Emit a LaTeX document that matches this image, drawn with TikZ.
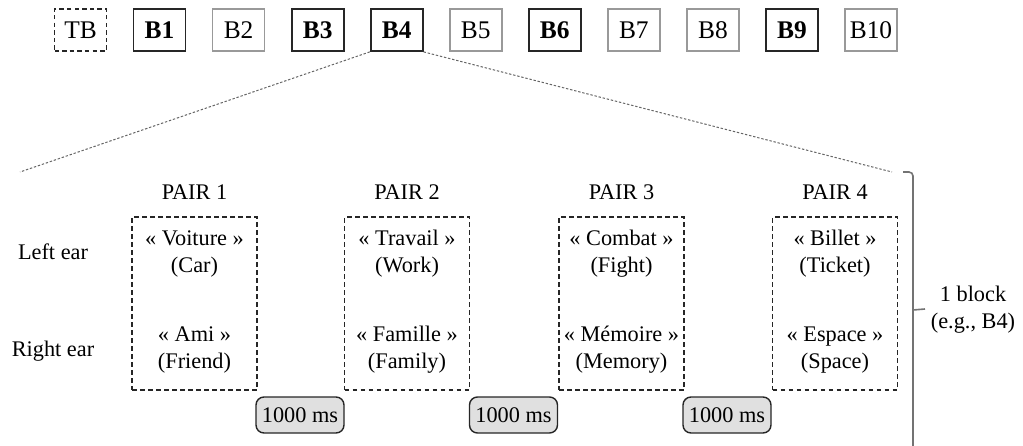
\documentclass[tikz,border=0pt]{standalone}
\usepackage{fontspec}
\setmainfont{Liberation Serif}

\tikzset{
  blk/.style={draw, minimum width=26pt, minimum height=21pt, inner sep=0pt,
    line width=0.9pt, font=\fontsize{12.7}{14}\selectfont},
  blkon/.style={blk, draw=black!85, font=\fontsize{12.7}{14}\selectfont\bfseries},
  blkoff/.style={blk, draw=black!40, line width=0.75pt},
  blktrain/.style={blk, draw=black!85, dash pattern=on 2.2pt off 1.6pt},
  pairbox/.style={draw=black!85, line width=0.7pt, dash pattern=on 2.4pt off 1.6pt,
    minimum width=62.5pt, minimum height=86.5pt, inner sep=0pt},
  word/.style={align=center, inner sep=0pt},
  isi/.style={draw=black!85, line width=0.7pt, rounded corners=4pt, fill=black!12,
    minimum width=44pt, minimum height=18pt, inner sep=0pt},
  zoomline/.style={black!60, line width=0.5pt, dash pattern=on 1.2pt off 0.9pt},
  bracket/.style={black!55, line width=0.8pt},
}

\begin{document}
\begin{tikzpicture}[x=0.5pt, y=-0.5pt, font=\fontsize{11.15}{13.5}\selectfont]
\useasboundingbox (0,0) rectangle (1023,445);

% blocks of the session
\foreach \name/\lbl/\kind [count=\k from 0] in {tb/TB/blktrain, b1/B1/blkon,
    b2/B2/blkoff, b3/B3/blkon, b4/B4/blkon, b5/B5/blkoff, b6/B6/blkon,
    b7/B7/blkoff, b8/B8/blkoff, b9/B9/blkon, b10/B10/blkoff}
  \node[\kind] (\name) at (80.5+79.05*\k, 30) {\lbl};

% zoom on B4
\coordinate (zoomL) at (20,172);
\coordinate (zoomR) at (892,172);
\draw[zoomline] (b4.south west) -- (zoomL);
\draw[zoomline] (b4.south east) -- (zoomR);

% ears
\node (leftear) at (53,252) {Left ear};
\node (rightear) at (53,351) {Right ear};

% the four pairs
\foreach \i/\x/\lw/\lt/\rw/\rt in {1/194.5/Voiture/Car/Ami/Friend,
    2/407/Travail/Work/Famille/Family, 3/621.5/Combat/Fight/Mémoire/Memory,
    4/835/Billet/Ticket/Espace/Space}
{
  \node (pairlabel\i) at (\x,192) {PAIR \i};
  \node[pairbox] (pair\i) at (\x,303.5) {};
  \node[word] (left\i) at (\x,253.5) {« \lw{} »\\(\lt)};
  \node[word] (right\i) at (\x,350) {« \rw{} »\\(\rt)};
}

% silences between pairs
\foreach \i/\x in {1/300, 2/513.5, 3/727}
  \node[isi] (isi\i) at (\x,415) {1000 ms};

% bracket for one block
\coordinate (brtop) at (903,172);
\coordinate (brbot) at (913,448);
\coordinate (brmid) at (913,310);
\coordinate (brtip) at (925,309);
\draw[bracket, rounded corners=2pt] (brtop) -| (brbot);
\draw[bracket] (brmid) -- (brtip);
\node[align=center] (blocknote) at (973,310) {1 block\\(e.g., B4)};
\end{tikzpicture}
\end{document}
